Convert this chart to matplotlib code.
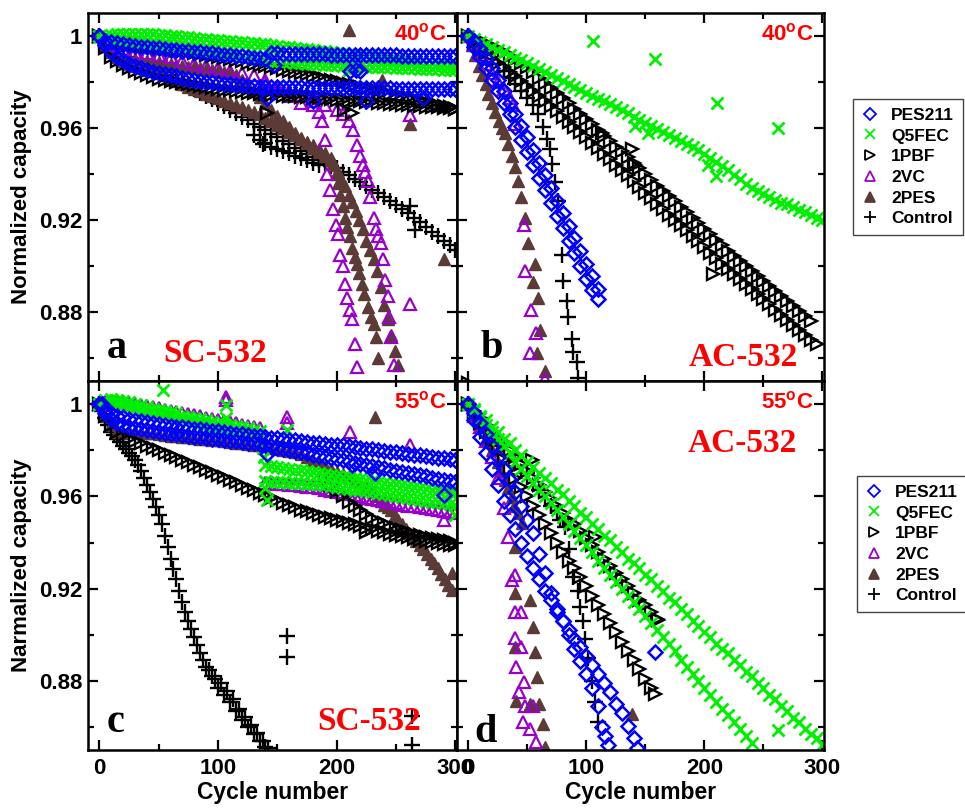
import numpy as np
import matplotlib
matplotlib.use('Agg')
import matplotlib.pyplot as plt
from matplotlib.lines import Line2D
from matplotlib.ticker import FixedLocator, FixedFormatter

plt.rcParams['font.family'] = ['Liberation Sans', 'DejaVu Sans']
plt.rcParams['font.weight'] = 'bold'
plt.rcParams['mathtext.fontset'] = 'custom'
plt.rcParams['mathtext.rm'] = 'Liberation Sans:bold'
plt.rcParams['mathtext.bf'] = 'Liberation Sans:bold'
plt.rcParams['mathtext.it'] = 'Liberation Sans:bold'

# ---------------- categories / ticks ----------------
SERIES = ['PES211', 'Q5FEC', '1PBF', '2VC', '2PES', 'Control']
XTICKS = [0, 100, 200, 300]
XTICK_LABELS = ['0', '100', '200', '300']
YTICKS = [0.88, 0.92, 0.96, 1.0]
YTICK_LABELS = ['0.88', '0.92', '0.96', '1']

# ================= Panel a : SC-532, 40 C (values every 5 cycles unless x given) =================
A_PES211_UP = [1.0, 0.998, 0.9975, 0.997, 0.9965, 0.996, 0.9958, 0.9955, 0.9952, 0.995, 0.9948, 0.9945, 0.9942, 0.994, 0.9937, 0.9935, 0.9932, 0.993, 0.9927, 0.9925, 0.9922, 0.992, 0.9917, 0.9915, 0.9912, 0.991, 0.9907, 0.9905, 0.9902, 0.9925, 0.9925, 0.9924, 0.9924, 0.9923, 0.9923, 0.9922, 0.9922, 0.9921, 0.9921, 0.992, 0.992, 0.992, 0.9919, 0.9919, 0.9919, 0.9918, 0.9918, 0.9918, 0.9917, 0.9917, 0.9917, 0.9916, 0.9916, 0.9916, 0.9915, 0.9915, 0.9915, 0.9914, 0.9914, 0.9914, 0.9913]
A_PES211_LO = [1.0, 0.996, 0.993, 0.991, 0.9895, 0.988, 0.987, 0.986, 0.9853, 0.9846, 0.984, 0.9835, 0.983, 0.9825, 0.982, 0.9815, 0.981, 0.9806, 0.9802, 0.9799, 0.9796, 0.9793, 0.979, 0.9788, 0.9786, 0.9784, 0.9782, 0.978, 0.9779, 0.9779, 0.9778, 0.9778, 0.9777, 0.9777, 0.9777, 0.9776, 0.9776, 0.9776, 0.9775, 0.9775, 0.9775, 0.9775, 0.9774, 0.9774, 0.9774, 0.9774, 0.9773, 0.9773, 0.9773, 0.9773, 0.9772, 0.9772, 0.9772, 0.9772, 0.9771, 0.9771, 0.9771, 0.9771, 0.977, 0.977, 0.977]
A_PES211_OUT_X = [141, 180, 211, 216, 220, 225, 273, 147]
A_PES211_OUT_Y = [0.973, 0.972, 0.9848, 0.9855, 0.985, 0.972, 0.973, 0.9875]

A_Q5FEC_1 = [1.0, 1.0003, 1.0006, 1.0008, 1.001, 1.001, 1.001, 1.001, 1.001, 1.0008, 1.0006, 1.0004, 1.0002, 1.0, 0.9998, 0.9996, 0.9993, 0.999, 0.9988, 0.9985, 0.9982, 0.998, 0.9978, 0.9976, 0.9974, 0.9972, 0.997, 0.9968, 0.9966, 0.9962, 0.9958, 0.9955, 0.9952, 0.9949, 0.9946, 0.9943, 0.994, 0.9937, 0.9934, 0.9931, 0.9928, 0.9925, 0.9922, 0.992, 0.9917, 0.9914, 0.9911, 0.9908, 0.9905, 0.9902, 0.99, 0.9897, 0.9894, 0.9891, 0.9888, 0.9885, 0.9882, 0.9879, 0.9876, 0.9873, 0.987]
A_Q5FEC_2 = [1.0, 0.9995, 0.999, 0.9985, 0.998, 0.9977, 0.9974, 0.9971, 0.9968, 0.9965, 0.9962, 0.9959, 0.9956, 0.9953, 0.995, 0.9947, 0.9944, 0.9941, 0.9938, 0.9935, 0.9932, 0.9929, 0.9926, 0.9923, 0.992, 0.9917, 0.9914, 0.9911,
             0.9895, 0.9893, 0.9891, 0.9889, 0.9887, 0.9885, 0.9883, 0.9881, 0.9879, 0.9877, 0.9875, 0.9874, 0.9873, 0.9872, 0.9871, 0.987, 0.9869, 0.9868, 0.9867, 0.9866, 0.9865, 0.9864, 0.9863, 0.9862, 0.9861, 0.986, 0.9859, 0.9858, 0.9857, 0.9856, 0.9855, 0.9854, 0.9853]
A_Q5FEC_OUT_X = [141, 150, 210, 215]
A_Q5FEC_OUT_Y = [0.9935, 0.992, 0.9855, 0.986]

A_1PBF_1 = [1.0, 0.9985, 0.998, 0.9975, 0.997, 0.9967, 0.9964, 0.9961, 0.9958, 0.9955, 0.9952, 0.9948, 0.9944, 0.994, 0.9936, 0.9932, 0.9928, 0.9924, 0.992, 0.9915, 0.991, 0.9905, 0.99, 0.9895, 0.989, 0.9885, 0.988, 0.9875, 0.987, 0.9865, 0.986, 0.9855, 0.985, 0.9845, 0.984, 0.9834, 0.9828, 0.9822, 0.9816, 0.981, 0.9804, 0.9798, 0.9792, 0.9786, 0.978, 0.9774, 0.9768, 0.9762, 0.9756, 0.975, 0.9744, 0.9738, 0.9732, 0.9726, 0.972, 0.9714, 0.9708, 0.9702, 0.9696, 0.969, 0.9684]
A_1PBF_2 = [1.0, 0.995, 0.991, 0.989, 0.9875, 0.986, 0.985, 0.984, 0.983, 0.9822, 0.9815, 0.981, 0.9805, 0.98, 0.9795, 0.979, 0.9786, 0.9782, 0.9778, 0.9774, 0.977, 0.9767, 0.9764, 0.9761, 0.9758, 0.9755, 0.9752, 0.975, 0.9748, 0.9746, 0.9744, 0.9742, 0.974, 0.9738, 0.9736, 0.9734, 0.9732, 0.973, 0.9728, 0.9726, 0.9724, 0.9722, 0.972, 0.9718, 0.9716, 0.9714, 0.9712, 0.971, 0.9708, 0.9706, 0.9704, 0.9702, 0.97, 0.9698, 0.9696, 0.9694, 0.9692, 0.969, 0.9688, 0.9686, 0.9684]
A_1PBF_OUT_X = [141, 206, 213]
A_1PBF_OUT_Y = [0.9665, 0.968, 0.9665]

A_2VC_1_X = [0, 10, 20, 30, 40, 50, 60, 70, 80, 90, 100, 110, 120, 130, 140, 150, 160, 170, 180, 185, 188, 190, 192, 194, 197, 199, 201, 203, 205, 207, 209, 211, 213, 215, 217]
A_2VC_1_Y = [1.0, 0.996, 0.994, 0.993, 0.9925, 0.992, 0.991, 0.989, 0.988, 0.987, 0.986, 0.985, 0.984, 0.983, 0.980, 0.977, 0.974, 0.971, 0.970, 0.967, 0.963, 0.955, 0.940, 0.933, 0.925, 0.918, 0.914, 0.905, 0.900, 0.892, 0.886, 0.881, 0.877, 0.866, 0.856]
A_2VC_2_X = [140, 150, 160, 170, 180, 190, 200, 205, 210, 214, 217, 220, 222, 224, 226, 228, 231, 233, 235, 237, 239, 241, 243, 244, 246, 248]
A_2VC_2_Y = [0.981, 0.978, 0.976, 0.974, 0.972, 0.970, 0.968, 0.966, 0.963, 0.959, 0.9525, 0.948, 0.944, 0.941, 0.937, 0.930, 0.921, 0.916, 0.913, 0.910, 0.903, 0.894, 0.887, 0.878, 0.869, 0.857]
A_2VC_OUT_X = [262, 262]
A_2VC_OUT_Y = [0.9656, 0.8836]

A_2PES_1_X = list(range(0, 196, 5)) + [197, 199, 201, 203, 205, 207, 209, 211, 213, 215, 217, 219, 221, 223, 226, 229, 231, 233, 235]
A_2PES_1_Y = [1.0, 0.996, 0.993, 0.991, 0.989, 0.988, 0.987, 0.986, 0.9855, 0.985, 0.984, 0.983, 0.982, 0.9805, 0.979, 0.978, 0.977, 0.976, 0.975, 0.974, 0.973, 0.972, 0.971, 0.970, 0.969, 0.968, 0.967, 0.966, 0.9645, 0.963, 0.9615, 0.96, 0.9585, 0.957, 0.9555, 0.954, 0.9525, 0.951, 0.949, 0.947,
              0.945, 0.940, 0.936, 0.931, 0.926, 0.921, 0.917, 0.913, 0.908, 0.904, 0.901, 0.897, 0.892, 0.888, 0.882, 0.878, 0.875, 0.869, 0.860]
A_2PES_2_X = list(range(0, 196, 5)) + list(range(198, 253, 3))
A_2PES_2_Y = [1.0, 0.997, 0.995, 0.993, 0.991, 0.9905, 0.990, 0.9897, 0.9893, 0.989, 0.9886, 0.9882, 0.9879, 0.9875, 0.9871, 0.9868, 0.9864, 0.986, 0.9857, 0.9854, 0.985, 0.9845, 0.984,
              0.983, 0.981, 0.9785, 0.976, 0.9735, 0.971, 0.968, 0.9655, 0.963, 0.9605, 0.958, 0.9558, 0.9536, 0.9515, 0.9495, 0.9478, 0.946,
              0.944, 0.941, 0.938, 0.935, 0.931, 0.928, 0.924, 0.920, 0.916, 0.911, 0.907, 0.903, 0.898, 0.891, 0.883, 0.877, 0.870, 0.863, 0.857]
A_2PES_OUT_X = [210, 262, 290, 238]
A_2PES_OUT_Y = [1.0026, 0.962, 0.903, 0.981]

A_CTRL_1 = [1.0, 0.997, 0.995, 0.9935, 0.992, 0.991, 0.990, 0.989, 0.988, 0.987, 0.986, 0.9845, 0.983, 0.9815, 0.980, 0.9785, 0.977, 0.9755, 0.974, 0.9725, 0.971, 0.9695, 0.968, 0.9665, 0.965, 0.9635, 0.962, 0.9605, 0.959, 0.9575, 0.956, 0.9545, 0.953, 0.9515, 0.950, 0.9487, 0.9475, 0.9462, 0.945, 0.9437, 0.9425, 0.941, 0.9395, 0.938, 0.9365, 0.935, 0.9333, 0.9316, 0.93, 0.9283, 0.9266, 0.925, 0.923, 0.921, 0.919, 0.917, 0.915, 0.913, 0.911, 0.909, 0.907]
A_CTRL_2 = [0.957, 0.955, 0.9535, 0.952, 0.951, 0.950, 0.949, 0.948, 0.947, 0.946, 0.945, 0.944]
A_CTRL_OUT_X = [138, 262, 266]
A_CTRL_OUT_Y = [0.953, 0.926, 0.9155]

# ================= Panel b : AC-532, 40 C =================
B_PES211_1 = [1.0, 0.9955, 0.991, 0.986, 0.981, 0.976, 0.971, 0.966, 0.9605, 0.955, 0.9495, 0.944, 0.9385, 0.933, 0.9275, 0.922, 0.9165, 0.911, 0.9055, 0.900, 0.8945, 0.8895, 0.8855]
B_PES211_2 = [1.0, 0.998, 0.9945, 0.9905, 0.986, 0.981, 0.976, 0.971, 0.966, 0.961, 0.956, 0.9505, 0.945, 0.9395, 0.934, 0.9285, 0.923, 0.9175, 0.912, 0.9065, 0.901, 0.8955, 0.890]

B_Q5FEC = [1.0, 0.9988, 0.9977, 0.9965, 0.9953, 0.9942, 0.993, 0.9918, 0.9907, 0.9895, 0.9882, 0.9869, 0.9856, 0.9843, 0.983, 0.9817, 0.9804, 0.9791, 0.9778, 0.9765, 0.9752, 0.974, 0.9728, 0.9716, 0.9704, 0.9692, 0.968, 0.9665, 0.965, 0.9637, 0.9624, 0.9611, 0.9598, 0.9585, 0.9572, 0.9559, 0.9546, 0.9533, 0.952, 0.9503, 0.9486, 0.9469, 0.9452, 0.9435, 0.9416, 0.9397, 0.9378, 0.9359, 0.934, 0.9327, 0.9314, 0.9301, 0.9288, 0.9275, 0.927, 0.9258, 0.9246, 0.9234, 0.9222, 0.921, 0.920]
B_Q5FEC_OUT_X = [105.6, 158, 210.6, 262, 141, 152, 203, 210]
B_Q5FEC_OUT_Y = [0.998, 0.990, 0.971, 0.960, 0.961, 0.958, 0.944, 0.939]

B_1PBF_1 = [1.0, 0.999, 0.998, 0.997, 0.9955, 0.9945, 0.993, 0.9915, 0.990, 0.9885, 0.9865, 0.9843, 0.982, 0.9798, 0.9775, 0.9753, 0.973, 0.9708, 0.9685, 0.9663, 0.964, 0.9616, 0.9592, 0.9568, 0.9544, 0.952, 0.950, 0.9475, 0.945, 0.9425, 0.940, 0.9375, 0.935, 0.9327, 0.9304, 0.9281, 0.9258, 0.9235, 0.9211, 0.9187, 0.9163, 0.9139, 0.9115, 0.909, 0.9067, 0.9045, 0.9023, 0.9001, 0.8979, 0.8957, 0.8935, 0.8913, 0.8891, 0.8869, 0.8847, 0.8825, 0.8803, 0.8781, 0.876]
B_1PBF_2 = [1.0, 0.9975, 0.995, 0.9925, 0.9905, 0.9885, 0.9865, 0.9845, 0.9825, 0.9805, 0.9785, 0.9763, 0.974, 0.9718, 0.9695, 0.9673, 0.965, 0.9628, 0.9605, 0.9583, 0.956, 0.9536, 0.9512, 0.9488, 0.9464, 0.944, 0.942, 0.9395, 0.937, 0.9345, 0.932, 0.9295, 0.927, 0.9247, 0.9224, 0.9201, 0.9178, 0.9155, 0.9131, 0.9107, 0.9083, 0.9059, 0.9035, 0.901, 0.8987, 0.8965, 0.8943, 0.8921, 0.8899, 0.8877, 0.8855, 0.8833, 0.8811, 0.8789, 0.8767, 0.8745, 0.8723, 0.8701, 0.8679, 0.866]
B_1PBF_OUT_X = [113, 138.6, 141, 207, 0]
B_1PBF_OUT_Y = [0.958, 0.951, 0.944, 0.8967, 0.849]

B_2VC_X = [0, 5, 10, 15, 20, 25, 30, 35, 38, 40, 47, 48, 53, 57, 52, 65]
B_2VC_Y = [1.0, 0.996, 0.992, 0.988, 0.984, 0.980, 0.977, 0.973, 0.970, 0.962, 0.918, 0.898, 0.881, 0.871, 0.862, 0.851]
B_2PES_X = [0, 3, 6, 9, 12, 15, 17, 20, 23, 26, 29, 31, 34, 37, 40, 42, 45, 48, 51, 55, 56.6, 59, 60.8, 58, 65]
B_2PES_Y = [1.0, 0.996, 0.992, 0.987, 0.983, 0.979, 0.975, 0.971, 0.967, 0.963, 0.960, 0.958, 0.953, 0.948, 0.943, 0.937, 0.930, 0.921, 0.910, 0.893, 0.901, 0.886, 0.872, 0.862, 0.8545]
B_CTRL_X = [0, 5, 10, 15, 20, 25, 30, 35, 40, 45, 50, 55, 59.5, 63.7, 66.5, 69.3, 70.7, 73.5, 76.4, 79.2, 80.6, 83.4, 84.8, 87.6, 89, 91.9, 93.3]
B_CTRL_Y = [1.0, 0.998, 0.995, 0.993, 0.990, 0.988, 0.985, 0.982, 0.979, 0.976, 0.973, 0.970, 0.9663, 0.9605, 0.9554, 0.9511, 0.9445, 0.9365, 0.9285, 0.9046, 0.8937, 0.885, 0.8777, 0.8683, 0.8624, 0.8581, 0.8515]

# ================= Panel c : SC-532, 55 C =================
C_CTRL_1 = [1.0, 0.994, 0.988, 0.985, 0.982, 0.979, 0.976, 0.971, 0.965, 0.959, 0.952, 0.943, 0.933, 0.924, 0.914, 0.906, 0.899, 0.892, 0.886, 0.882, 0.877, 0.874, 0.871, 0.867, 0.863, 0.860, 0.857, 0.854, 0.8515]
C_CTRL_2 = [0.997, 0.991, 0.9865, 0.9835, 0.9805, 0.9775, 0.9735, 0.968, 0.962, 0.9555, 0.948, 0.938, 0.9285, 0.919, 0.910, 0.9025, 0.8955, 0.889, 0.8845, 0.881, 0.879, 0.8755, 0.872, 0.868, 0.8645, 0.861, 0.8575, 0.854, 0.851]
C_CTRL_OUT_X = [158, 158, 263.5, 263.5]
C_CTRL_OUT_Y = [0.8993, 0.8903, 0.8649, 0.8523]

C_1PBF_1 = [1.0, 0.995, 0.991, 0.988, 0.9865, 0.985, 0.984, 0.983, 0.982, 0.981, 0.980, 0.979, 0.978, 0.977, 0.976, 0.9749, 0.9738, 0.9727, 0.9716, 0.9705, 0.9694, 0.9683, 0.9672, 0.9661, 0.965, 0.9638, 0.9627, 0.9616, 0.9605, 0.9594, 0.9583, 0.9573, 0.9563, 0.9553, 0.9543, 0.9535, 0.9527, 0.952, 0.9513, 0.9506, 0.95, 0.9493, 0.9486, 0.9479, 0.9472, 0.9465, 0.9458, 0.9451, 0.9444, 0.9438, 0.9432, 0.9427, 0.9422, 0.9417, 0.9412, 0.9407, 0.9403, 0.9399, 0.9395, 0.9391, 0.9388]
C_1PBF_2 = [0.967, 0.965, 0.9625, 0.960, 0.9578, 0.9558, 0.954, 0.9523, 0.9508, 0.9495, 0.9483, 0.9472, 0.9462, 0.9453, 0.9445, 0.9438, 0.9432, 0.9426, 0.942, 0.9415, 0.941, 0.9405, 0.940]
C_1PBF_OUT_X = [225]
C_1PBF_OUT_Y = [0.9445]

C_PES211_1 = [1.0, 0.9975, 0.996, 0.995, 0.9943, 0.9937, 0.9932, 0.9927, 0.9922, 0.9918, 0.9914, 0.991, 0.9906, 0.9903, 0.99, 0.9897, 0.9894, 0.9891, 0.9888, 0.9885, 0.9882, 0.9879, 0.9876, 0.9873, 0.987, 0.9867, 0.9864, 0.9861, 0.9858, 0.9855, 0.9852, 0.9849, 0.9846, 0.9843, 0.984, 0.9837, 0.9834, 0.9831, 0.9828, 0.9825, 0.9825, 0.9822, 0.9818, 0.9815, 0.9811, 0.9808, 0.9804, 0.9801, 0.9798, 0.9795, 0.9792, 0.9788, 0.9785, 0.9781, 0.9778, 0.9774, 0.9771, 0.9768, 0.9765, 0.9761, 0.9758]
C_PES211_2 = [1.0, 0.996, 0.9935, 0.992, 0.991, 0.9903, 0.9897, 0.9892, 0.9887, 0.9883, 0.9879, 0.9875, 0.9872, 0.9869, 0.9866, 0.9863, 0.986, 0.9857, 0.9854, 0.9851, 0.9848, 0.9845, 0.9842, 0.9839, 0.9836, 0.9833, 0.983, 0.9827, 0.9822, 0.9817, 0.9812, 0.9807, 0.9802, 0.9797, 0.9792, 0.9787, 0.9782, 0.9777, 0.9772, 0.9767, 0.9762, 0.9757, 0.9752, 0.9747, 0.9742, 0.9737, 0.9732, 0.9727, 0.9722, 0.9717, 0.9712, 0.9707, 0.9702, 0.9697, 0.9692, 0.9687, 0.9682, 0.9677, 0.9672, 0.9667, 0.9662]
C_PES211_OUT_X = [2.5, 141, 212.8, 232.5, 290]
C_PES211_OUT_Y = [1.0, 0.9785, 0.9736, 0.970, 0.9606]

C_Q5FEC_1 = [1.0, 1.002, 1.0025, 1.002, 1.0015, 1.001, 1.0, 0.9995, 0.999, 0.998, 0.9975, 0.997, 0.9965, 0.996, 0.995, 0.9945, 0.994, 0.9935, 0.993, 0.9925, 0.992, 0.9915, 0.991, 0.9905, 0.990, 0.9895, 0.989, 0.9885,
             0.9735, 0.9732, 0.9728, 0.9724, 0.972, 0.9716, 0.9713, 0.9709, 0.9705, 0.9702, 0.9698, 0.9694, 0.969, 0.9686, 0.9683, 0.9679, 0.9675, 0.9671, 0.9668, 0.9664, 0.966, 0.9656, 0.9652, 0.9648, 0.9645, 0.9641, 0.9637, 0.9633, 0.963, 0.9626, 0.9622, 0.9618, 0.9615]
C_Q5FEC_2 = [1.0, 1.0005, 1.0005, 1.0, 0.9995, 0.999, 0.9983, 0.9976, 0.997, 0.9963, 0.9957, 0.995, 0.9944, 0.9938, 0.9932, 0.9926, 0.992, 0.9914, 0.9908, 0.9902, 0.9896, 0.989, 0.9885, 0.988, 0.9875, 0.987, 0.9865, 0.986,
             0.9665, 0.9664, 0.9662, 0.9661, 0.966, 0.9658, 0.9657, 0.9655, 0.9654, 0.9652, 0.965, 0.9646, 0.9642, 0.9638, 0.9634, 0.963, 0.9626, 0.9622, 0.9618, 0.9614, 0.961, 0.9606, 0.9602, 0.9598, 0.9594, 0.959, 0.9586, 0.9582, 0.9578, 0.9574, 0.957, 0.9566, 0.9562]
C_Q5FEC_OUT_X = [53.7, 107, 107, 141, 158, 300, 137, 138, 139, 140]
C_Q5FEC_OUT_Y = [1.0062, 0.9997, 0.994, 0.9584, 0.989, 0.952, 0.985, 0.981, 0.977, 0.9635]

C_2VC_1 = [1.0, 1.001, 1.0015, 1.0012, 1.001, 1.0005, 1.0, 0.9996, 0.9992, 0.9987, 0.9982, 0.9977, 0.9972, 0.9967, 0.9962, 0.9957, 0.9952, 0.9947, 0.9942, 0.9937, 0.9932, 0.9927, 0.9922, 0.9917, 0.9912, 0.9907, 0.9902, 0.9897,
           0.966, 0.9658, 0.9655, 0.9652, 0.965, 0.9648, 0.9645, 0.9642, 0.964, 0.9635, 0.963, 0.9625, 0.962, 0.9615, 0.961, 0.9605, 0.96, 0.9595, 0.959, 0.9585, 0.958, 0.9575, 0.957, 0.9565, 0.956, 0.9557, 0.9555, 0.955, 0.9545, 0.954, 0.9537, 0.9533, 0.953]
C_2VC_OUT_X = [107, 107, 158, 158, 211, 262, 290]
C_2VC_OUT_Y = [1.003, 1.002, 0.9944, 0.992, 0.988, 0.9823, 0.9497]

C_2PES_X = list(range(0, 226, 5)) + list(range(228, 298, 3))
C_2PES_Y = [1.0, 0.995, 0.991, 0.988, 0.9875, 0.9885, 0.9885, 0.988, 0.9877, 0.9874, 0.987, 0.9867, 0.9864, 0.9862, 0.986, 0.9857, 0.9854, 0.9851, 0.9848, 0.9846, 0.9843, 0.984, 0.9837, 0.9834, 0.9831, 0.9828, 0.9825, 0.9822, 0.9817, 0.9812, 0.9807, 0.9802, 0.9797, 0.9791, 0.9785,
            0.9772, 0.9758, 0.9745, 0.9732, 0.972, 0.9708, 0.9696, 0.9684, 0.9672, 0.966, 0.9648,
            0.964, 0.962, 0.960, 0.958, 0.9565, 0.9555, 0.954, 0.952, 0.950, 0.948, 0.946, 0.944, 0.9425, 0.9405, 0.9388, 0.937, 0.935, 0.933, 0.931, 0.929, 0.9265, 0.924, 0.9215, 0.9195]
C_2PES_OUT_X = [232, 297]
C_2PES_OUT_Y = [0.9945, 0.927]

# ================= Panel d : AC-532, 55 C =================
D_PES211_1_X = list(range(0, 111, 5)) + [113, 116, 118.6]
D_PES211_1_Y = [1.0, 0.993, 0.986, 0.979, 0.972, 0.965, 0.958, 0.952, 0.946, 0.940, 0.934, 0.929, 0.924, 0.919, 0.915, 0.910, 0.906, 0.900, 0.894, 0.8885, 0.883, 0.877, 0.869, 0.8598, 0.856, 0.852]
D_PES211_2_X = list(range(0, 141, 5)) + [142.6]
D_PES211_2_Y = [1.0, 0.996, 0.992, 0.987, 0.982, 0.977, 0.972, 0.967, 0.962, 0.956, 0.950, 0.944, 0.935, 0.927, 0.918, 0.911, 0.906, 0.902, 0.898, 0.8945, 0.891, 0.887, 0.883, 0.879, 0.875, 0.870, 0.866, 0.8605, 0.855, 0.851]
D_PES211_OUT_X = [158]
D_PES211_OUT_Y = [0.8924]

D_Q5FEC_1 = [1.0, 0.998, 0.995, 0.993, 0.990, 0.988, 0.985, 0.983, 0.980, 0.978, 0.975, 0.973, 0.970, 0.968, 0.966, 0.963, 0.961, 0.958, 0.956, 0.953, 0.951, 0.948, 0.946, 0.943, 0.941, 0.938, 0.936, 0.933, 0.931, 0.929, 0.926, 0.924, 0.921, 0.919, 0.916, 0.914, 0.911, 0.909, 0.906, 0.904, 0.901, 0.899, 0.896, 0.894, 0.892, 0.889, 0.887, 0.884, 0.882, 0.879, 0.877, 0.874, 0.872, 0.869, 0.867, 0.864, 0.862, 0.859, 0.857, 0.855, 0.852]
D_Q5FEC_2 = [1.0, 0.997, 0.994, 0.991, 0.988, 0.985, 0.982, 0.979, 0.975, 0.972, 0.969, 0.966, 0.963, 0.960, 0.957, 0.954, 0.951, 0.948, 0.945, 0.942, 0.939, 0.936, 0.932, 0.929, 0.926, 0.923, 0.920, 0.917, 0.914, 0.911, 0.908, 0.905, 0.902, 0.899, 0.896, 0.893, 0.889, 0.886, 0.883, 0.880, 0.877, 0.874, 0.871, 0.868, 0.865, 0.862, 0.859, 0.856, 0.853]
D_Q5FEC_OUT_X = [262]
D_Q5FEC_OUT_Y = [0.8585]

D_1PBF_1 = [1.0, 0.997, 0.994, 0.991, 0.988, 0.985, 0.983, 0.980, 0.977, 0.974, 0.971, 0.968, 0.965, 0.962, 0.959, 0.956, 0.953, 0.950, 0.948, 0.945, 0.942, 0.939, 0.936, 0.933, 0.930, 0.927, 0.924, 0.921, 0.918, 0.915, 0.913, 0.910, 0.907]
D_1PBF_2 = [1.0, 0.996, 0.992, 0.988, 0.984, 0.980, 0.976, 0.972, 0.968, 0.964, 0.960, 0.956, 0.952, 0.948, 0.944, 0.940, 0.936, 0.932, 0.929, 0.925, 0.921, 0.917, 0.913, 0.909, 0.905, 0.901, 0.897, 0.893, 0.889, 0.885, 0.881, 0.877]
D_1PBF_OUT_X = [53.8, 107, 160.8, 158]
D_1PBF_OUT_Y = [0.9758, 0.9423, 0.9062, 0.8745]

D_2VC_X = [0, 5, 10, 15, 20, 25, 30, 34, 37, 40, 40, 45, 40, 45, 40.7, 43, 47, 48, 55, 46, 52, 57.5]
D_2VC_Y = [1.0, 0.995, 0.99, 0.984, 0.977, 0.968, 0.955, 0.9424, 0.9236, 0.9258, 0.910, 0.910, 0.8984, 0.8946, 0.8859, 0.875, 0.8794, 0.8693, 0.8693, 0.862, 0.859, 0.8533]
D_2PES_X = [0, 5, 10, 15, 20, 25, 28, 31.3, 34, 36.9, 39, 42.5, 45.4, 39.7, 39.7, 52.4, 55.2, 39.7, 56.6, 58, 40.5, 52, 60, 63.6, 65, 138.4]
D_2PES_Y = [1.0, 0.995, 0.990, 0.985, 0.980, 0.975, 0.971, 0.967, 0.9635, 0.9597, 0.956, 0.9527, 0.9484, 0.938, 0.918, 0.915, 0.9033, 0.8946, 0.8924, 0.8816, 0.8714, 0.870, 0.870, 0.8613, 0.8511, 0.8658]
D_CTRL_X = [0, 10, 20, 30, 40, 50, 60, 70, 78, 82, 85, 88.7, 93, 94.3, 97.5, 99, 101.7, 104.5, 107, 110]
D_CTRL_Y = [1.0, 0.994, 0.988, 0.982, 0.976, 0.970, 0.963, 0.956, 0.950, 0.9468, 0.937, 0.925, 0.919, 0.912, 0.906, 0.898, 0.890, 0.880, 0.871, 0.862]


def grid(start, vals, step=5):
    vals = np.asarray(vals, dtype=float)
    return start + step * np.arange(len(vals)), vals


def pts(x, y):
    return np.asarray(x, dtype=float), np.asarray(y, dtype=float)


PANELS = {
    'a': {
        'PES211': [grid(0, A_PES211_UP), grid(0, A_PES211_LO), pts(A_PES211_OUT_X, A_PES211_OUT_Y)],
        'Q5FEC': [grid(0, A_Q5FEC_1), grid(0, A_Q5FEC_2), pts(A_Q5FEC_OUT_X, A_Q5FEC_OUT_Y)],
        '1PBF': [grid(0, A_1PBF_1), grid(0, A_1PBF_2), pts(A_1PBF_OUT_X, A_1PBF_OUT_Y)],
        '2VC': [pts(A_2VC_1_X, A_2VC_1_Y), pts(A_2VC_2_X, A_2VC_2_Y), pts(A_2VC_OUT_X, A_2VC_OUT_Y)],
        '2PES': [pts(A_2PES_1_X, A_2PES_1_Y), pts(A_2PES_2_X, A_2PES_2_Y), pts(A_2PES_OUT_X, A_2PES_OUT_Y)],
        'Control': [grid(0, A_CTRL_1), grid(130, A_CTRL_2), pts(A_CTRL_OUT_X, A_CTRL_OUT_Y)],
    },
    'b': {
        'PES211': [grid(0, B_PES211_1), grid(0, B_PES211_2)],
        'Q5FEC': [grid(0, B_Q5FEC), pts(B_Q5FEC_OUT_X, B_Q5FEC_OUT_Y)],
        '1PBF': [grid(0, B_1PBF_1), grid(0, B_1PBF_2), pts(B_1PBF_OUT_X, B_1PBF_OUT_Y)],
        '2VC': [pts(B_2VC_X, B_2VC_Y)],
        '2PES': [pts(B_2PES_X, B_2PES_Y)],
        'Control': [pts(B_CTRL_X, B_CTRL_Y)],
    },
    'c': {
        'PES211': [grid(0, C_PES211_1), grid(0, C_PES211_2), pts(C_PES211_OUT_X, C_PES211_OUT_Y)],
        'Q5FEC': [grid(0, C_Q5FEC_1), grid(0, C_Q5FEC_2), pts(C_Q5FEC_OUT_X, C_Q5FEC_OUT_Y)],
        '1PBF': [grid(0, C_1PBF_1), grid(190, C_1PBF_2), pts(C_1PBF_OUT_X, C_1PBF_OUT_Y)],
        '2VC': [grid(0, C_2VC_1), pts(C_2VC_OUT_X, C_2VC_OUT_Y)],
        '2PES': [pts(C_2PES_X, C_2PES_Y), pts(C_2PES_OUT_X, C_2PES_OUT_Y)],
        'Control': [grid(0, C_CTRL_1), grid(2.5, C_CTRL_2), pts(C_CTRL_OUT_X, C_CTRL_OUT_Y)],
    },
    'd': {
        'PES211': [pts(D_PES211_1_X, D_PES211_1_Y), pts(D_PES211_2_X, D_PES211_2_Y), pts(D_PES211_OUT_X, D_PES211_OUT_Y)],
        'Q5FEC': [grid(0, D_Q5FEC_1), grid(0, D_Q5FEC_2), pts(D_Q5FEC_OUT_X, D_Q5FEC_OUT_Y)],
        '1PBF': [grid(0, D_1PBF_1), grid(0, D_1PBF_2), pts(D_1PBF_OUT_X, D_1PBF_OUT_Y)],
        '2VC': [pts(D_2VC_X, D_2VC_Y)],
        '2PES': [pts(D_2PES_X, D_2PES_Y)],
        'Control': [pts(D_CTRL_X, D_CTRL_Y)],
    },
}

BLUE, GREEN, PURPLE, BROWN, RED = '#0000ff', '#00ee00', '#9900cc', '#5c3a36', '#ff0000'
STYLE = {
    'PES211': dict(marker='D', mfc='none', mec=BLUE, ms=7.5, mew=1.8),
    'Q5FEC': dict(marker='x', color=GREEN, ms=8.5, mew=2.0),
    '1PBF': dict(marker='>', mfc='none', mec='black', ms=9.0, mew=1.7),
    '2VC': dict(marker='^', mfc='none', mec=PURPLE, ms=8.0, mew=1.6),
    '2PES': dict(marker='^', mfc=BROWN, mec=BROWN, ms=8.0, mew=1.0),
    'Control': dict(marker='+', color='black', ms=11.0, mew=1.7),
}
LEGEND_MS = {'PES211': 6.0, 'Q5FEC': 7.0, '1PBF': 6.5, '2VC': 6.5, '2PES': 6.5, 'Control': 9.0}
DRAW_ORDER = ['Control', '2PES', '2VC', '1PBF', 'Q5FEC', 'PES211']

W, H = 965, 808
fig = plt.figure(figsize=(W / 100, H / 100), dpi=100)
L, M, R = 88 / W, 457 / W, 824 / W
T, MID, B = 1 - 13 / H, 1 - 381 / H, 1 - 750 / H
axes = {
    'a': fig.add_axes([L, MID, M - L, T - MID]),
    'b': fig.add_axes([M, MID, R - M, T - MID]),
    'c': fig.add_axes([L, B, M - L, MID - B]),
    'd': fig.add_axes([M, B, R - M, MID - B]),
}

for key, ax in axes.items():
    for name in DRAW_ORDER:
        for (x, y) in PANELS[key][name]:
            ax.plot(x, y, linestyle='none', **STYLE[name])
    ax.set_xlim(-9.5, 301.3)
    ax.set_ylim(0.85, 1.0101)
    ax.xaxis.set_major_locator(FixedLocator(XTICKS))
    ax.xaxis.set_minor_locator(FixedLocator([50, 150, 250]))
    ax.yaxis.set_major_locator(FixedLocator(YTICKS))
    ax.yaxis.set_minor_locator(FixedLocator([0.86, 0.90, 0.94, 0.98]))
    ax.xaxis.set_major_formatter(FixedFormatter(XTICK_LABELS))
    ax.yaxis.set_major_formatter(FixedFormatter(YTICK_LABELS))
    ax.tick_params(which='both', direction='in', top=True, right=True, width=1.6)
    ax.tick_params(which='major', length=7)
    ax.tick_params(which='minor', length=4)
    ax.tick_params(axis='y', labelsize=16, pad=4)
    ax.tick_params(axis='x', labelsize=16, pad=6)
    for sp in ax.spines.values():
        sp.set_linewidth(1.8)
    if key in ('a', 'b'):
        ax.tick_params(axis='x', labelbottom=False)
    if key in ('b', 'd'):
        ax.tick_params(axis='y', labelleft=False)

for lab in axes['a'].get_yticklabels() + axes['c'].get_yticklabels() + axes['c'].get_xticklabels() + axes['d'].get_xticklabels():
    lab.set_fontweight('bold')

axes['a'].set_ylabel('Normalized capacity', fontsize=16, fontweight='bold', labelpad=5)
axes['c'].set_ylabel('Narmalized capacity', fontsize=16, fontweight='bold', labelpad=5)
axes['c'].set_xlabel('Cycle number', fontsize=16.5, fontweight='bold', labelpad=1)
axes['d'].set_xlabel('Cycle number', fontsize=16.5, fontweight='bold', labelpad=1)

SERIF = ['Liberation Serif', 'DejaVu Serif']
temp = {'a': '40', 'b': '40', 'c': '55', 'd': '55'}
for key, ax in axes.items():
    ax.text(0.90, 0.942, temp[key] + r'$^{\mathbf{o}}$C', transform=ax.transAxes, ha='center', va='center',
            color=RED, fontsize=16, fontweight='bold')

letter_pos = {'a': (0.079, 0.062), 'b': (0.095, 0.062), 'c': (0.076, 0.049), 'd': (0.079, 0.022)}
for key, (fx, fy) in letter_pos.items():
    axes[key].text(fx, fy, key, transform=axes[key].transAxes, ha='center', va='baseline',
                   fontsize=29, fontweight='bold', family=SERIF, color='black')

name_pos = {'a': ('SC-532', 0.343, 0.052), 'b': ('AC-532', 0.779, 0.041),
            'c': ('SC-532', 0.763, 0.054), 'd': ('AC-532', 0.778, 0.808)}
for key, (txt, fx, fy) in name_pos.items():
    axes[key].text(fx, fy, txt, transform=axes[key].transAxes, ha='center', va='baseline',
                   fontsize=24, fontweight='bold', family=SERIF, color=RED)

handles = [Line2D([], [], linestyle='none', **dict(STYLE[n], ms=LEGEND_MS[n], mew=1.3)) for n in SERIES]
for (lx, ty) in [(853, 99), (857, 476)]:
    leg = fig.legend(handles, SERIES, loc='upper left', bbox_to_anchor=(lx / W, 1 - ty / H),
                     bbox_transform=fig.transFigure, frameon=True, fancybox=False,
                     edgecolor='#444444', framealpha=1, borderaxespad=0, borderpad=0.5,
                     handlelength=1.0, handletextpad=0.7, labelspacing=0.32,
                     prop={'family': 'Liberation Sans', 'weight': 'bold', 'size': 12.5})
    leg.get_frame().set_linewidth(1.0)

fig.savefig('out.png', dpi=100)
